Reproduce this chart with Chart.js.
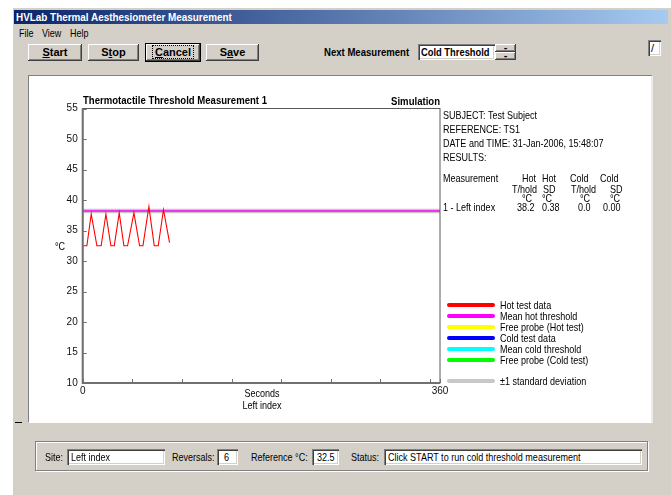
<!DOCTYPE html>
<html>
<head>
<meta charset="utf-8">
<script src="https://cdn.jsdelivr.net/npm/chart.js@4.4.1/dist/chart.umd.min.js"></script>
<style>
body{margin:0;width:671px;height:495px;background:#fff;position:relative;overflow:hidden;
  font-family:"Liberation Sans",Arial,sans-serif;font-size:11px;color:#000}
.a{position:absolute;white-space:nowrap;line-height:12px;height:12px;transform:scaleX(0.82);transform-origin:0 0}
.b{font-weight:bold;transform:scaleX(0.87)}
.r{transform-origin:100% 0}
.c{transform-origin:50% 0}
.t{display:inline-block;white-space:nowrap;transform:scaleX(0.82);transform-origin:0 0}
.win{position:absolute;left:12px;top:7px;width:659px;height:488px;background:#d4d0c8;box-shadow:inset 1px 1px #fff}
.tbar{position:absolute;left:14px;top:10px;width:654px;height:14px;background:linear-gradient(to right,#0a246a,#a6caf0);
  color:#fff;font-weight:bold;line-height:14px;padding-left:2px;box-sizing:border-box}
.tbar span{display:inline-block;transform:scaleX(0.9);transform-origin:0 0}
.btn{position:absolute;top:44px;height:17px;line-height:16px;text-align:center;font-weight:bold;background:#d4d0c8;
  box-shadow:inset -1px -1px #404040,inset 1px 1px #fff,inset -2px -2px #808080}
.def{outline:1px solid #000}
.focus{border:1px dotted #000;padding:0 2px}
.inp{position:absolute;background:#fff;height:16px;line-height:16px;padding-left:4px;box-sizing:border-box;overflow:hidden;
  box-shadow:inset 1px 1px #808080,inset 2px 2px #404040,inset -1px -1px #fff,inset -2px -2px #d4d0c8}
.panel{position:absolute;left:28px;top:75px;width:625px;height:348px;background:#fff;box-sizing:border-box;
  border-left:1px solid #808080;border-top:1px solid #808080;border-right:2px solid #ecebe8;border-bottom:1px solid #fff}
.group{position:absolute;left:35px;top:441px;width:613px;height:30px;box-sizing:border-box;
  border:1px solid #808080;box-shadow:1px 1px #fff,inset 1px 1px #fff}
.sw{position:absolute;left:447px;width:48px;height:4px;border-radius:2px}
canvas{position:absolute;left:29px;top:76px}
</style>
</head>
<body>
<div class="win"></div>
<div class="tbar"><span>HVLab Thermal Aesthesiometer Measurement</span></div>
<div class="a" style="left:19px;top:27px">File</div>
<div class="a" style="left:42px;top:27px">View</div>
<div class="a" style="left:70px;top:27px">Help</div>

<div class="btn" style="left:28px;width:54px"><u>S</u>tart</div>
<div class="btn" style="left:88px;width:51px">S<u>t</u>op</div>
<div class="btn def" style="left:146px;width:54px"><span class="focus"><u>C</u>ancel</span></div>
<div class="btn" style="left:206px;width:53px">S<u>a</u>ve</div>

<div class="a b" style="left:324px;top:46px">Next Measurement</div>
<div class="inp" style="left:418px;top:44px;width:77px;padding-left:3px"><span class="t" style="font-weight:bold;transform:scaleX(0.85)">Cold Threshold</span></div>
<div class="btn" style="left:495px;top:44px;width:21px;height:8px;line-height:6px">-</div>
<div class="btn" style="left:495px;top:52px;width:21px;height:8px;line-height:6px">-</div>
<div class="inp" style="left:648px;top:40px;width:13px;padding-left:3px">/</div>

<div class="panel"></div>
<canvas id="myChart" width="623" height="346"></canvas>

<div class="a b" style="left:83px;top:94px">Thermotactile Threshold Measurement 1</div>
<div class="a b r" style="left:340px;top:95px;width:100px;text-align:right">Simulation</div>
<div class="a" style="left:55px;top:240px">°C</div>
<div class="a c" style="left:212px;top:387px;width:100px;text-align:center">Seconds</div>
<div class="a c" style="left:212px;top:399px;width:100px;text-align:center">Left index</div>

<div id="info"></div>
<div id="legend"></div>

<div style="position:absolute;left:15px;top:422px;width:7px;height:1px;background:#000"></div>

<div class="group"></div>
<div class="a" style="left:45px;top:451px">Site:</div>
<div class="inp" style="left:67px;top:449px;width:98px"><span class="t">Left index</span></div>
<div class="a" style="left:172px;top:451px">Reversals:</div>
<div class="inp" style="left:217px;top:449px;width:21px;padding-left:7px"><span class="t">6</span></div>
<div class="a" style="left:251px;top:451px">Reference °C:</div>
<div class="inp" style="left:312px;top:449px;width:27px;padding-left:5px"><span class="t">32.5</span></div>
<div class="a" style="left:351px;top:451px">Status:</div>
<div class="inp" style="left:384px;top:449px;width:258px"><span class="t">Click START to run cold threshold measurement</span></div>

<script>
// hot test trace (seconds, deg C)
const timeSec = [0, 4.2, 8.6, 14.3, 18.6, 23.4, 28.4, 31.8, 36.8, 41.5, 45.2, 51.6, 57.3, 60.7, 66.7, 72.1, 76.1, 81.4, 87.5];
const hotTemp = [32.5, 32.5, 37.7, 32.5, 32.5, 37.7, 32.5, 32.5, 37.9, 32.5, 32.5, 37.9, 32.5, 32.5, 38.9, 32.5, 32.5, 38.4, 33.0];

const hotMean = 38.2;
const hotSD = 0.38;
const coldMean = 0.0;
const coldSD = 0.00;

const xMin = 0, xMax = 360;
const yMin = 10, yMax = 55, yStep = 5;
const xTickValues = [0, 50, 100, 150, 200, 250, 300, 350, 360];
const xTickLabels = ['0', '', '', '', '', '', '', '', '360'];

const legendLabels = ['Hot test data', 'Mean hot threshold', 'Free probe (Hot test)', 'Cold test data',
  'Mean cold threshold', 'Free probe (Cold test)', '±1 standard deviation'];
const legendColors = ['#ff0000', '#ff00ff', '#ffff00', '#0000ff', '#00ffff', '#00ff00', '#c8c8c8'];

// info text block
const infoLines = [
  ['SUBJECT: Test Subject', 443, 109],
  ['REFERENCE: TS1', 443, 123],
  ['DATE and TIME: 31-Jan-2006, 15:48:07', 443, 137],
  ['RESULTS:', 443, 151],
  ['Measurement', 443, 172], ['Hot', 522, 172], ['Hot', 542, 172], ['Cold', 570, 172], ['Cold', 600, 172],
  ['T/hold', 512, 183], ['SD', 543, 183], ['T/hold', 571, 183], ['SD', 610, 183],
  ['°C', 522, 192], ['°C', 542, 192], ['°C', 580, 192], ['°C', 610, 192],
  ['1 - Left index', 443, 201], [hotMean.toFixed(1), 517, 201], [hotSD.toFixed(2), 542, 201],
  [coldMean.toFixed(1), 578, 201], [coldSD.toFixed(2), 603, 201]
];
let html = '';
infoLines.forEach(l => { html += '<div class="a" style="left:' + l[1] + 'px;top:' + l[2] + 'px">' + l[0] + '</div>'; });
document.getElementById('info').innerHTML = html;

const legendY = [305, 316, 326.5, 337.5, 348.5, 359.5, 380.5];
html = '';
legendLabels.forEach((t, i) => {
  html += '<div class="sw" style="top:' + (legendY[i] - 2) + 'px;background:' + legendColors[i] + '"></div>';
  html += '<div class="a" style="left:500px;top:' + (legendY[i] - 6) + 'px">' + t + '</div>';
});
document.getElementById('legend').innerHTML = html;

const flat = v => [{x: xMin, y: v}, {x: xMax, y: v}];

// box round the plot and short inward ticks
const frame = {
  id: 'frame',
  afterDatasetsDraw(chart) {
    const {ctx, chartArea: a, scales: {x, y}} = chart;
    ctx.save();
    ctx.strokeStyle = '#5a5a5a';
    ctx.lineWidth = 1;
    ctx.strokeRect(a.left, a.top, a.right - a.left, a.bottom - a.top);
    ctx.strokeStyle = '#707070';
    ctx.lineWidth = 2;
    ctx.beginPath();
    ctx.moveTo(a.left, a.top);
    ctx.lineTo(a.left, a.bottom);
    ctx.lineTo(a.right, a.bottom);
    ctx.stroke();
    ctx.lineWidth = 1;
    ctx.beginPath();
    x.ticks.forEach(t => {
      const px = Math.round(x.getPixelForValue(t.value)) + 0.5;
      ctx.moveTo(px, a.bottom); ctx.lineTo(px, a.bottom - 4);
    });
    y.ticks.forEach(t => {
      const py = Math.round(y.getPixelForValue(t.value)) + 0.5;
      ctx.moveTo(a.left, py); ctx.lineTo(a.left + 4, py);
    });
    ctx.stroke();
    ctx.restore();
  }
};

Chart.defaults.font.family = '"Liberation Sans",Arial,sans-serif';
Chart.defaults.font.size = 10;
Chart.defaults.color = '#111';

var ctx = document.getElementById('myChart');
var myChart = new Chart(ctx, {
  type: 'line',
  data: {
    datasets: [{
      label: 'sd low',
      data: flat(hotMean - hotSD),
      borderWidth: 0,
      pointRadius: 0,
      fill: false,
      order: 3
    }, {
      label: 'sd high',
      data: flat(hotMean + hotSD),
      borderWidth: 0,
      pointRadius: 0,
      backgroundColor: '#c8c8c8',
      fill: '-1',
      order: 2
    }, {
      label: 'Mean hot threshold',
      data: flat(hotMean),
      borderColor: '#ff00ff',
      borderWidth: 1.5,
      pointRadius: 0,
      order: 1
    }, {
      label: 'Hot test data',
      data: timeSec.map((t, i) => ({x: t, y: hotTemp[i]})),
      borderColor: '#ff0000',
      borderWidth: 1.1,
      pointRadius: 0,
      tension: 0,
      order: 0
    }]
  },
  options: {
    responsive: false,
    animation: false,
    events: [],
    layout: {padding: {left: 0, top: 32.5, right: 212, bottom: 19}},
    plugins: {legend: {display: false}, tooltip: {enabled: false}},
    scales: {
      x: {
        type: 'linear',
        min: xMin,
        max: xMax,
        afterBuildTicks: s => { s.ticks = xTickValues.map(v => ({value: v})); },
        afterFit: s => { s.height = 20; },
        ticks: {
          autoSkip: false,
          maxRotation: 0,
          padding: 2,
          callback: (v, i) => xTickLabels[i]
        },
        grid: {display: false, drawTicks: false},
        border: {display: false}
      },
      y: {
        min: yMin,
        max: yMax,
        afterFit: s => { s.width = 53.7; },
        ticks: {stepSize: yStep, padding: 5},
        grid: {display: false, drawTicks: false},
        border: {display: false}
      }
    }
  },
  plugins: [frame]
});
</script>
</body>
</html>
